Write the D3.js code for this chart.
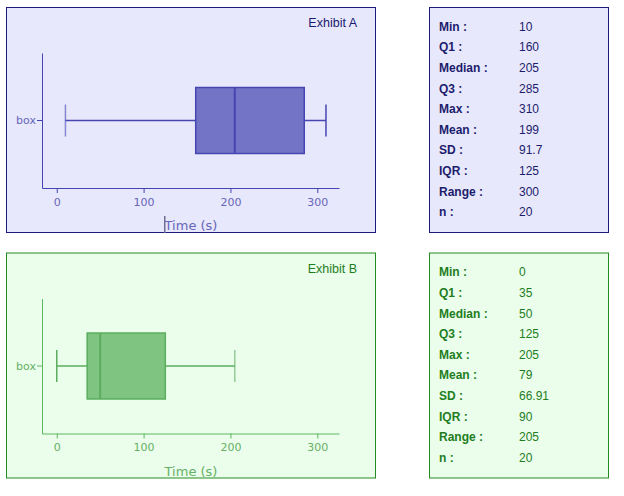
<!DOCTYPE html>
<html><head><meta charset="utf-8">
<script src="https://cdn.jsdelivr.net/npm/d3@7"></script>
<style>body{margin:0;background:#fff}svg{display:block}</style>
</head><body>
<script>
const exhibits = ["Exhibit A", "Exhibit B"];
const statLabels = ["Min", "Q1", "Median", "Q3", "Max", "Mean", "SD", "IQR", "Range", "n"];
const statsA = ["10", "160", "205", "285", "310", "199", "91.7", "125", "300", "20"];
const statsB = ["0", "35", "50", "125", "205", "79", "66.91", "90", "205", "20"];
const boxA = [10, 160, 205, 285, 310];
const boxB = [0, 35, 50, 125, 205];
const xTicks = [0, 100, 200, 300];
const xDomain = [-17, 325];
const category = ["box"];

const themes = [
  {bg:"#e8e8fc", border:"#1c1c7c", title:"#191970", axis:"#4444b4", tick:"#6666b8", fill:"#7474c6", stroke:"#4646b2", statText:"#1c1c6c"},
  {bg:"#ebfdeb", border:"#228b22", title:"#1e7e1e", axis:"#5cb860", tick:"#66b066", fill:"#80c482", stroke:"#5aae5e", statText:"#1e7e1e"}
];
const data = [boxA, boxB];
const stats = [statsA, statsB];

const svg = d3.select("body").append("svg").attr("width",624).attr("height",496);

exhibits.forEach((name, i) => {
  const t = themes[i];
  const oy = i * 245.5;
  const g = svg.append("g").attr("transform", `translate(0,${oy})`);
  g.append("rect").attr("x",6.5).attr("y",7.5).attr("width",369).attr("height",225)
    .attr("fill",t.bg).attr("stroke",t.border).attr("stroke-width",1);
  g.append("text").attr("x",357).attr("y",27).attr("text-anchor","end")
    .attr("font-family","Liberation Sans, Arial, sans-serif").attr("font-size",12.5)
    .attr("fill",t.title).text(name);

  const x = d3.scaleLinear().domain(xDomain).range([42, 339]);
  const y = d3.scaleBand().domain(category).range([53, 188]);

  const xAxis = g.append("g").attr("transform","translate(0,188)")
    .call(d3.axisBottom(x).tickValues(xTicks).tickSize(5).tickSizeOuter(0));
  xAxis.select(".domain").attr("stroke",t.axis);
  xAxis.selectAll(".tick line").attr("stroke",t.axis);
  xAxis.selectAll("text").attr("fill",t.tick).attr("font-family","DejaVu Sans, Verdana, sans-serif").attr("font-size",11).attr("dy","0.9em");

  const yAxis = g.append("g").attr("transform","translate(42,0)")
    .call(d3.axisLeft(y).tickSize(5).tickSizeOuter(0));
  yAxis.select(".domain").attr("stroke",t.axis);
  yAxis.selectAll(".tick line").attr("stroke",t.axis);
  yAxis.selectAll("text").attr("fill",t.tick).attr("font-family","DejaVu Sans, Verdana, sans-serif").attr("font-size",11).attr("x",-6);

  g.append("text").attr("x",191).attr("y",230).attr("text-anchor","middle")
    .attr("font-family","DejaVu Sans, Verdana, sans-serif").attr("font-size",13)
    .attr("fill",t.tick).text("Time (s)");

  const d = data[i];
  const cy = y("box") + y.bandwidth()/2;
  const bh = 66, ch = 32;
  const bg = g.append("g");
  bg.append("line").attr("x1",x(d[0])).attr("x2",x(d[1])).attr("y1",cy).attr("y2",cy).attr("stroke",t.stroke).attr("stroke-width",1.5);
  bg.append("line").attr("x1",x(d[3])).attr("x2",x(d[4])).attr("y1",cy).attr("y2",cy).attr("stroke",t.stroke).attr("stroke-width",1.5);
  bg.append("line").attr("x1",x(d[0])).attr("x2",x(d[0])).attr("y1",cy-ch/2).attr("y2",cy+ch/2).attr("stroke",t.stroke).attr("stroke-width",1.5).attr("stroke-opacity", i===0?0.6:1);
  bg.append("line").attr("x1",x(d[4])).attr("x2",x(d[4])).attr("y1",cy-ch/2).attr("y2",cy+ch/2).attr("stroke",t.stroke).attr("stroke-width",1.5).attr("stroke-opacity", i===1?0.6:1);
  bg.append("rect").attr("x",x(d[1])).attr("y",cy-bh/2).attr("width",x(d[3])-x(d[1])).attr("height",bh)
    .attr("fill",t.fill).attr("stroke",t.stroke).attr("stroke-width",1.5);
  bg.append("line").attr("x1",x(d[2])).attr("x2",x(d[2])).attr("y1",cy-bh/2).attr("y2",cy+bh/2).attr("stroke",t.stroke).attr("stroke-width",2);

  if (i === 0) {
    g.append("rect").attr("x",164).attr("y",216).attr("width",1.5).attr("height",17).attr("fill","#6e6e98");
  }

  // stats panel
  const sg = svg.append("g").attr("transform", `translate(0,${oy})`);
  sg.append("rect").attr("x",429.5).attr("y",7.5).attr("width",179).attr("height",225)
    .attr("fill",t.bg).attr("stroke",t.border).attr("stroke-width",1);
  const rowY = d3.scalePoint().domain(statLabels).range([26.7, 212]);
  statLabels.forEach((lab, k) => {
    sg.append("text").attr("x",439).attr("y",rowY(lab)).attr("dy","0.35em")
      .attr("font-family","Liberation Sans, Arial, sans-serif").attr("font-size",12).attr("font-weight","bold")
      .attr("fill",t.statText).text(lab + " :");
    sg.append("text").attr("x",519).attr("y",rowY(lab)).attr("dy","0.35em")
      .attr("font-family","Liberation Sans, Arial, sans-serif").attr("font-size",12)
      .attr("fill",t.statText).text(stats[i][k]);
  });
});
</script>
</body></html>
